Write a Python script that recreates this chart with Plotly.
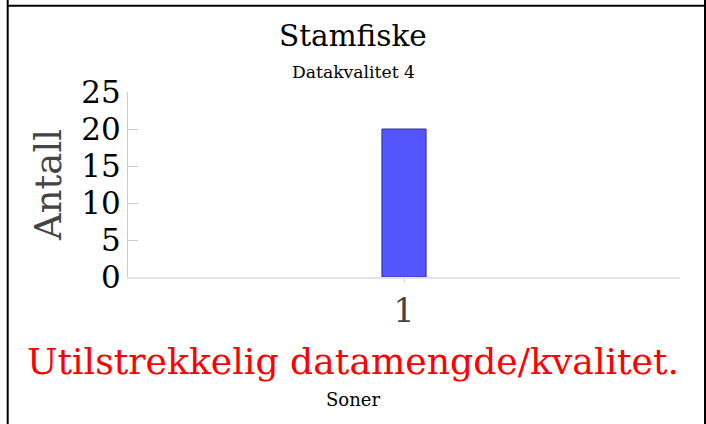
import plotly.graph_objects as go

categories = ["1"]
values = [20]
y_ticks = [0, 5, 10, 15, 20, 25]
title_text = "Stamfiske"
subtitle_text = "Datakvalitet 4"
warning_text = "Utilstrekkelig datamengde/kvalitet."
x_title = "Soner"
y_title = "Antall"

FONT = "DejaVu Serif"
W, H = 706, 424
ML, MR, MT, MB = 128, 26, 92, 147
PW = W - ML - MR
PH = H - MT - MB


def px_x(x):
    return (x - ML) / PW


def px_y(y):
    return (H - MB - y) / PH


fig = go.Figure(
    go.Bar(
        x=categories,
        y=values,
        width=0.08,
        marker=dict(color="rgb(85,85,255)", line=dict(color="rgb(50,50,150)", width=1)),
    )
)

cx = px_x(W / 2)
annotations = [
    dict(text=title_text, x=cx, y=px_y(36), font=dict(size=29.5, color="black", family=FONT)),
    dict(text=subtitle_text, x=cx, y=px_y(72), font=dict(size=17.2, color="black", family=FONT)),
    dict(text=warning_text, x=cx, y=px_y(361), font=dict(size=36.2, color="red", family=FONT)),
    dict(text=x_title, x=cx, y=px_y(399), font=dict(size=18, color="black", family=FONT)),
]
for a in annotations:
    a.update(xref="paper", yref="paper", showarrow=False, xanchor="center", yanchor="middle")

shapes = [
    dict(type="line", x0=px_x(7.7), x1=px_x(7.7), y0=px_y(440), y1=px_y(-10)),
    dict(type="line", x0=px_x(705), x1=px_x(705), y0=px_y(440), y1=px_y(-10)),
    dict(type="line", x0=px_x(7.7), x1=px_x(705), y0=px_y(5.7), y1=px_y(5.7)),
]
for s in shapes:
    s.update(xref="paper", yref="paper", line=dict(color="black", width=2))

fig.update_layout(
    width=W,
    height=H,
    margin=dict(l=ML, r=MR, t=MT, b=MB, autoexpand=False),
    paper_bgcolor="white",
    plot_bgcolor="white",
    showlegend=False,
    font=dict(family=FONT),
    annotations=annotations,
    shapes=shapes,
    xaxis=dict(
        type="category",
        showline=True,
        linecolor="#e3e3e3",
        linewidth=2,
        ticks="outside",
        ticklen=3,
        tickcolor="#cccccc",
        showgrid=False,
        zeroline=False,
        tickfont=dict(size=33, color="#444444", family=FONT),
    ),
    yaxis=dict(
        range=[0, 25],
        tickvals=y_ticks,
        ticks="inside",
        ticklen=10,
        tickcolor="#cccccc",
        showline=True,
        linecolor="#cccccc",
        linewidth=1,
        showgrid=False,
        zeroline=False,
        tickfont=dict(size=31, color="black", family=FONT),
        title=dict(text=y_title, font=dict(size=37, color="#444444", family=FONT), standoff=8),
    ),
)

fig.write_html(
    "out.html",
    config={"displayModeBar": False},
    post_script="document.body.style.margin='0px';",
)
